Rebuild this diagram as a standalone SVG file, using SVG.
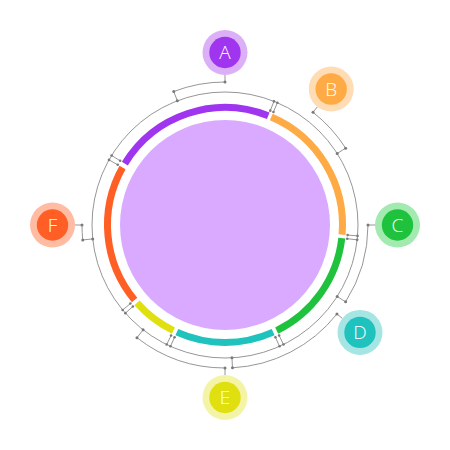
<svg xmlns="http://www.w3.org/2000/svg" width="450" height="450" viewBox="0 0 450 450">
<style>
.seg{fill:none;stroke-width:7}
.ln{fill:none;stroke:#8a8a8a;stroke-width:0.9}
.dot{fill:#7a7a7a}
.lbl{font-family:"Open Sans","Lato","Liberation Sans",sans-serif;font-weight:300;font-size:19px;fill:#ffffff;text-anchor:middle}
</style>
<rect width="450" height="450" fill="#ffffff"/>
<circle id="core" cx="225" cy="225" r="105" fill="#d9aaff"/>
<g id="ring">
<path class="seg" stroke="#a035f0" d="M124.82,163.61 A117.5,117.5 0 0 1 268.25,115.75"/>
<path class="seg" stroke="#ffab45" d="M271.28,117.0 A117.5,117.5 0 0 1 342.1,234.63"/>
<path class="seg" stroke="#1ec23c" d="M341.77,238.10 A117.5,117.5 0 0 1 276.70,330.52"/>
<path class="seg" stroke="#20c2be" d="M273.17,332.17 A117.5,117.5 0 0 1 176.83,332.17"/>
<path class="seg" stroke="#e0e010" d="M173.49,330.61 A117.5,117.5 0 0 1 137.00,302.86"/>
<path class="seg" stroke="#ff5e24" d="M134.60,300.06 A117.5,117.5 0 0 1 122.53,167.50"/>
</g>
<g id="connectors">
<circle class="ln" cx="225" cy="225" r="133"/>
<path class="ln" d="M120.13,160.73 L111.60,155.51 M270.28,110.63 L273.96,101.34 M273.45,111.95 L277.39,102.76 M347.59,235.08 L357.55,235.90 M347.23,238.71 L357.17,239.83 M279.12,335.46 L283.52,344.44 M275.42,337.19 L279.52,346.31 M174.58,337.19 L170.48,346.31 M171.08,335.55 L166.70,344.54 M132.88,306.50 L125.39,313.13 M130.36,303.57 L122.67,309.96 M117.74,164.81 L109.01,159.91"/>
<path class="ln" d="M177.34,100.83 L173.75,91.50 A143,143 0 0 1 225,82 L225,75"/>
<path class="ln" d="M337.17,153.54 L345.60,148.17 A143,143 0 0 0 313.04,112.31 L317.35,106.80"/>
<path class="ln" d="M337.17,296.46 L345.60,301.83 A143,143 0 0 0 368,225 L375,225"/>
<path class="ln" d="M231.96,357.82 L232.48,367.80 A143,143 0 0 0 336.91,314.02 L342.39,318.38"/>
<path class="ln" d="M143.12,329.81 L136.96,337.69 A143,143 0 0 0 225,368 L225,375"/>
<path class="ln" d="M92.73,238.90 L82.78,239.95 A143,143 0 0 1 82,225 L75,225"/>
<g class="dot">
<circle cx="120.13" cy="160.73" r="1.3"/><circle cx="111.60" cy="155.51" r="1.3"/>
<circle cx="270.28" cy="110.63" r="1.3"/><circle cx="273.96" cy="101.34" r="1.3"/>
<circle cx="273.45" cy="111.95" r="1.3"/><circle cx="277.39" cy="102.76" r="1.3"/>
<circle cx="347.59" cy="235.08" r="1.3"/><circle cx="357.55" cy="235.90" r="1.3"/>
<circle cx="347.23" cy="238.71" r="1.3"/><circle cx="357.17" cy="239.83" r="1.3"/>
<circle cx="279.12" cy="335.46" r="1.3"/><circle cx="283.52" cy="344.44" r="1.3"/>
<circle cx="275.42" cy="337.19" r="1.3"/><circle cx="279.52" cy="346.31" r="1.3"/>
<circle cx="174.58" cy="337.19" r="1.3"/><circle cx="170.48" cy="346.31" r="1.3"/>
<circle cx="171.08" cy="335.55" r="1.3"/><circle cx="166.70" cy="344.54" r="1.3"/>
<circle cx="132.88" cy="306.50" r="1.3"/><circle cx="125.39" cy="313.13" r="1.3"/>
<circle cx="130.36" cy="303.57" r="1.3"/><circle cx="122.67" cy="309.96" r="1.3"/>
<circle cx="117.74" cy="164.81" r="1.3"/><circle cx="109.01" cy="159.91" r="1.3"/>
<circle cx="177.34" cy="100.83" r="1.5"/><circle cx="173.75" cy="91.50" r="1.5"/><circle cx="225" cy="82" r="1.5"/>
<circle cx="337.17" cy="153.54" r="1.5"/><circle cx="345.60" cy="148.17" r="1.5"/><circle cx="313.04" cy="112.31" r="1.5"/>
<circle cx="337.17" cy="296.46" r="1.5"/><circle cx="345.60" cy="301.83" r="1.5"/><circle cx="368" cy="225" r="1.5"/>
<circle cx="231.96" cy="357.82" r="1.5"/><circle cx="232.48" cy="367.80" r="1.5"/><circle cx="336.91" cy="314.02" r="1.5"/>
<circle cx="143.12" cy="329.81" r="1.5"/><circle cx="136.96" cy="337.69" r="1.5"/><circle cx="225" cy="368" r="1.5"/>
<circle cx="92.73" cy="238.90" r="1.5"/><circle cx="82.78" cy="239.95" r="1.5"/><circle cx="82" cy="225" r="1.5"/>
</g>
</g>
<g id="node-A"><circle cx="225" cy="52.5" r="22.5" fill="#dcb0f7"/><circle cx="225" cy="52.5" r="15.7" fill="#a035f0"/><text class="lbl" x="225" y="59.3">A</text></g>
<g id="node-B"><circle cx="331.2" cy="89.07" r="22.5" fill="#ffdcb3"/><circle cx="331.2" cy="89.07" r="15.7" fill="#ffab45"/><text class="lbl" x="331.2" y="95.9">B</text></g>
<g id="node-C"><circle cx="397.5" cy="225" r="22.5" fill="#a3eab0"/><circle cx="397.5" cy="225" r="15.7" fill="#1ec23c"/><text class="lbl" x="397.5" y="231.8">C</text></g>
<g id="node-D"><circle cx="360" cy="332.38" r="22.5" fill="#a5e6e4"/><circle cx="360" cy="332.38" r="15.7" fill="#20c2be"/><text class="lbl" x="360" y="339.2">D</text></g>
<g id="node-E"><circle cx="225" cy="397.5" r="22.5" fill="#f4f4a6"/><circle cx="225" cy="397.5" r="15.7" fill="#e0e010"/><text class="lbl" x="225" y="404.3">E</text></g>
<g id="node-F"><circle cx="52.5" cy="225" r="22.5" fill="#ffbca3"/><circle cx="52.5" cy="225" r="15.7" fill="#ff5e24"/><text class="lbl" x="52.5" y="231.8">F</text></g>
</svg>
